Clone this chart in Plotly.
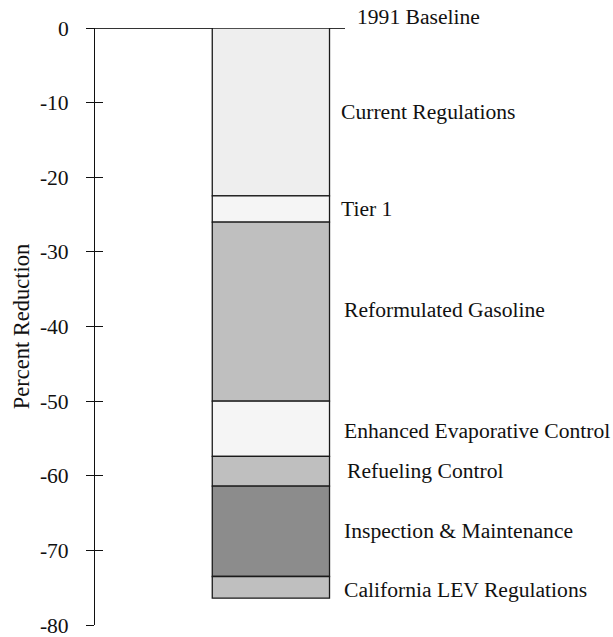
import numpy as np
import plotly.graph_objects as go

categories = ["Current Regulations", "Tier 1", "Reformulated Gasoline",
              "Enhanced Evaporative Control", "Refueling Control",
              "Inspection & Maintenance", "California LEV Regulations"]
reductions = [22.5, 3.5, 24.0, 7.4, 4.0, 12.1, 2.9]
colors = ["#eeeeee", "#f5f5f5", "#bfbfbf", "#f5f5f5", "#bfbfbf", "#8c8c8c", "#bfbfbf"]
tick_values = [0, -10, -20, -30, -40, -50, -60, -70, -80]
tick_labels = ["0", "-10", "-20", "-30", "-40", "-50", "-60", "-70", "-80"]
baseline_label = "1991 Baseline"
label_xshift = [-6, -6, -3, -3, 0, -3, -3]
label_yshift = [0, 0, 2, -2, 0, 0, -3]

FONT = "Liberation Serif, Times New Roman, serif"
FS = 21.6

red = np.array(reductions)
tops = -np.concatenate([[0], np.cumsum(red)[:-1]])
bottoms = tops - red
mids = (tops + bottoms) / 2

fig = go.Figure()
for i, c in enumerate(categories):
    fig.add_trace(go.Bar(
        x=[0], y=[-reductions[i]], base=[tops[i]], width=1.0,
        marker=dict(color=colors[i], line=dict(color="#1a1a1a", width=1.3)),
        name=c, showlegend=False, hoverinfo="skip"))

# invisible trace for the inner tick axis
fig.add_trace(go.Scatter(x=[0], y=[0], yaxis="y2", mode="markers",
                         marker=dict(opacity=0), showlegend=False, hoverinfo="skip"))

for i, c in enumerate(categories):
    fig.add_annotation(text=c, x=1.0, xref="paper", y=mids[i], yref="y",
                       xanchor="left", yanchor="middle", showarrow=False,
                       xshift=label_xshift[i], yshift=label_yshift[i],
                       font=dict(family=FONT, size=FS, color="#111111"))
fig.add_annotation(text=baseline_label, x=1.0, xref="paper", y=0, yref="y",
                   xanchor="left", yanchor="middle", showarrow=False,
                   xshift=10, yshift=11,
                   font=dict(family=FONT, size=FS, color="#111111"))

fig.update_layout(
    width=613, height=637,
    margin=dict(l=94.5, r=268, t=28, b=12.3, autoexpand=False),
    paper_bgcolor="white", plot_bgcolor="white",
    barmode="overlay",
    font=dict(family=FONT, size=FS, color="#111111"),
    xaxis=dict(range=[-1.5, 0.632], visible=False, fixedrange=True),
    yaxis=dict(range=[-80, 0], tickvals=tick_values, ticktext=tick_labels,
               ticks="outside", ticklen=8, ticklabeloverflow="allow",
               tickwidth=1, tickcolor="#111111", showline=True, linecolor="#111111",
               linewidth=1, showgrid=False, zeroline=True, zerolinecolor="#333333",
               zerolinewidth=1, ticklabelstandoff=13, automargin=False,
               title=dict(text="Percent Reduction", standoff=4,
                          font=dict(family=FONT, size=22.5))),
    yaxis2=dict(range=[-80, 0], overlaying="y", side="left", anchor="x",
                tickvals=tick_values, ticks="inside", ticklen=8, tickwidth=1,
                tickcolor="#111111", showticklabels=False, showgrid=False,
                zeroline=False, showline=False),
)

fig.write_html("out.html", config={"displayModeBar": False},
               post_script="document.body.style.margin='0';document.body.style.overflow='hidden';")
